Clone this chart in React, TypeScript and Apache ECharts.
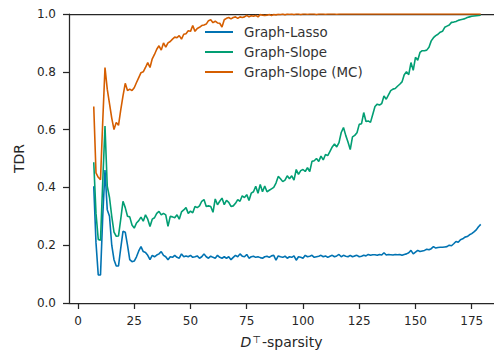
import React, { useEffect, useRef } from "react";
import * as echarts from "echarts";

const X_START = 7;
const X_END = 179;
const X_TICKS = [0, 25, 50, 75, 100, 125, 150, 175];
const Y_TICKS = [0, 0.2, 0.4, 0.6, 0.8, 1.0];
const SERIES_NAMES = ["Graph-Lasso", "Graph-Slope", "Graph-Slope (MC)"];
const COLORS = ["#0173B2", "#029E73", "#D55E00"];

const lasso = [
  0.404, 0.208, 0.097, 0.097, 0.30, 0.46, 0.323, 0.30, 0.20, 0.15,
  0.128, 0.128, 0.19, 0.248, 0.245, 0.20, 0.15, 0.143, 0.145, 0.16,
  0.18, 0.195, 0.178, 0.175, 0.165, 0.15, 0.165, 0.16, 0.166, 0.17,
  0.178, 0.165, 0.16, 0.15, 0.16, 0.158, 0.165, 0.158, 0.155, 0.17,
  0.16, 0.163, 0.16, 0.165, 0.158, 0.16, 0.163, 0.155, 0.16, 0.17,
  0.16, 0.155, 0.162, 0.158, 0.155, 0.165, 0.158, 0.155, 0.16, 0.155,
  0.16, 0.15, 0.158, 0.165, 0.16, 0.17, 0.162, 0.16, 0.168, 0.155,
  0.16, 0.162, 0.158, 0.16, 0.157, 0.155, 0.16, 0.162, 0.158, 0.163,
  0.165, 0.148, 0.163, 0.16, 0.158, 0.162, 0.155, 0.16, 0.158, 0.163,
  0.148, 0.16, 0.158, 0.155, 0.165, 0.16, 0.162, 0.165, 0.158, 0.16,
  0.162, 0.165, 0.16, 0.163, 0.158, 0.162, 0.165, 0.16, 0.163, 0.168,
  0.16, 0.165, 0.162, 0.16, 0.165, 0.16, 0.163, 0.165, 0.16, 0.162,
  0.165, 0.163, 0.168, 0.165, 0.167, 0.167, 0.165, 0.168, 0.166, 0.174,
  0.166, 0.168, 0.167, 0.166, 0.168, 0.167, 0.168, 0.165, 0.168, 0.17,
  0.174, 0.182, 0.17, 0.176, 0.182, 0.178, 0.18, 0.182, 0.186, 0.184,
  0.188, 0.195, 0.19, 0.192, 0.193, 0.193, 0.194, 0.195, 0.20, 0.198,
  0.205, 0.213, 0.21, 0.219, 0.222, 0.228, 0.23, 0.236, 0.24, 0.246,
  0.253, 0.264, 0.272,
];

const slope = [
  0.487, 0.31, 0.22, 0.217, 0.42, 0.612, 0.404, 0.365, 0.30, 0.245,
  0.231, 0.232, 0.29, 0.352, 0.33, 0.30, 0.298, 0.27, 0.259, 0.277,
  0.285, 0.297, 0.283, 0.305, 0.29, 0.265, 0.29, 0.295, 0.31, 0.317,
  0.305, 0.31, 0.305, 0.265, 0.30, 0.298, 0.295, 0.305, 0.29, 0.315,
  0.322, 0.33, 0.31, 0.318, 0.312, 0.334, 0.33, 0.336, 0.352, 0.358,
  0.334, 0.336, 0.334, 0.314, 0.36, 0.34, 0.352, 0.363, 0.34, 0.355,
  0.348, 0.334, 0.336, 0.345, 0.358, 0.352, 0.371, 0.365, 0.375, 0.355,
  0.38, 0.385, 0.404, 0.38, 0.41, 0.385, 0.405, 0.385, 0.39, 0.395,
  0.40, 0.415, 0.438, 0.43, 0.42, 0.425, 0.44, 0.43, 0.44, 0.425,
  0.462, 0.445, 0.458, 0.462, 0.455, 0.468, 0.455, 0.49, 0.492, 0.50,
  0.49, 0.508, 0.495, 0.514, 0.51, 0.525, 0.54, 0.55, 0.54, 0.555,
  0.59, 0.607, 0.58, 0.557, 0.531, 0.575, 0.58, 0.589, 0.618, 0.62,
  0.659, 0.628, 0.63, 0.625, 0.652, 0.68, 0.688, 0.685, 0.69, 0.716,
  0.705, 0.72, 0.735, 0.74, 0.742, 0.75, 0.757, 0.765, 0.79, 0.80,
  0.79, 0.832, 0.805, 0.85, 0.84, 0.867, 0.873, 0.873, 0.875, 0.885,
  0.907, 0.918, 0.925, 0.93, 0.937, 0.94, 0.954, 0.958, 0.962, 0.971,
  0.972, 0.974, 0.978, 0.98, 0.982, 0.984, 0.988, 0.99, 0.992, 0.993,
  0.994, 0.995, 0.996,
];

const slopeMC = [
  0.68, 0.45, 0.435, 0.427, 0.63, 0.815, 0.74, 0.69, 0.64, 0.60,
  0.625, 0.615, 0.668, 0.717, 0.76, 0.735, 0.74, 0.735, 0.745, 0.763,
  0.78, 0.797, 0.80, 0.815, 0.832, 0.815, 0.845, 0.86, 0.878, 0.89,
  0.875, 0.90, 0.885, 0.90, 0.905, 0.913, 0.92, 0.918, 0.925, 0.913,
  0.93, 0.932, 0.942, 0.94, 0.96, 0.94, 0.95, 0.954, 0.96, 0.962,
  0.965, 0.977, 0.98, 0.97, 0.975, 0.969, 0.968, 0.955, 0.98, 0.985,
  0.988, 0.983, 0.988, 0.99, 0.985, 0.99, 0.988, 0.99, 0.995, 0.99,
  0.994, 0.992, 0.995, 0.99, 0.998, 0.996, 0.995, 0.996, 0.998, 0.995,
  0.998, 0.997, 0.999, 0.998, 1.0, 0.997, 1.0, 0.999, 1.0, 0.998,
  1.0, 1.0, 0.998, 1.0, 1.0, 0.999, 1.0, 1.0, 1.0, 0.998,
  1.0, 1.0, 1.0, 0.999, 1.0, 1.0, 1.0, 1.0, 0.999, 1.0,
  1.0, 1.0, 1.0, 1.0, 1.0, 1.0, 1.0, 1.0, 1.0, 1.0,
  1.0, 1.0, 1.0, 1.0, 1.0, 1.0, 1.0, 1.0, 1.0, 1.0,
  1.0, 1.0, 1.0, 1.0, 1.0, 1.0, 1.0, 1.0, 1.0, 1.0,
  1.0, 1.0, 1.0, 1.0, 1.0, 1.0, 1.0, 1.0, 1.0, 1.0,
  1.0, 1.0, 1.0, 1.0, 1.0, 1.0, 1.0, 1.0, 1.0, 1.0,
  1.0, 1.0, 1.0, 1.0, 1.0, 1.0, 1.0, 1.0, 1.0, 1.0,
  1.0, 1.0, 1.0,
];

const xs: number[] = [];
for (let x = X_START; x <= X_END; x++) xs.push(x);

const SPINE = "#262626";
const FONT = "DejaVu Sans";
const X_MIN = -4;
const X_MAX = 184.9;

export default function App() {
  const ref = useRef<HTMLDivElement>(null);
  useEffect(() => {
    if (!ref.current) return;
    const chart = echarts.init(ref.current, undefined, { renderer: "svg" });
    const allSeries = [lasso, slope, slopeMC];
    chart.setOption({
      animation: false,
      backgroundColor: "#ffffff",
      grid: { left: 69, top: 14, right: 0, bottom: 52 },
      legend: {
        orient: "vertical",
        left: 205,
        top: 25,
        padding: 0,
        icon: "rect",
        itemWidth: 28,
        itemHeight: 2,
        itemGap: 6,
        data: SERIES_NAMES,
        textStyle: {
          fontFamily: FONT,
          fontSize: 13.4,
          lineHeight: 14,
          color: "#333333",
          padding: [0, 0, 0, 6],
        },
      },
      xAxis: [
        {
          type: "value",
          min: X_MIN,
          max: X_MAX,
          name: "{i|D}{s|⊤}-sparsity",
          nameLocation: "middle",
          nameGap: 31,
          nameTextStyle: {
            fontFamily: FONT,
            fontSize: 14,
            color: SPINE,
            rich: {
              i: { fontFamily: FONT, fontSize: 14, fontStyle: "italic", color: SPINE },
              s: { fontFamily: FONT, fontSize: 10, color: SPINE, verticalAlign: "top", padding: [0, 1, 6, 1] },
            },
          },
          axisLine: { show: true, onZero: false, lineStyle: { color: SPINE, width: 1.25 } },
          axisTick: {
            show: true,
            length: 6,
            customValues: X_TICKS,
            lineStyle: { color: SPINE, width: 1.25 },
          },
          axisLabel: {
            customValues: X_TICKS,
            margin: 12,
            fontFamily: FONT,
            fontSize: 12,
            color: SPINE,
          },
          splitLine: { show: false },
        },
        {
          type: "value",
          min: X_MIN,
          max: X_MAX,
          position: "top",
          axisLine: { show: true, onZero: false, lineStyle: { color: SPINE, width: 1.25 } },
          axisTick: { show: false },
          axisLabel: { show: false },
          splitLine: { show: false },
        },
      ],
      yAxis: {
        type: "value",
        min: 0,
        max: 1,
        interval: 0.2,
        name: "TDR",
        nameLocation: "middle",
        nameGap: 38,
        nameTextStyle: { fontFamily: FONT, fontSize: 14, color: SPINE },
        axisLine: { show: true, onZero: false, lineStyle: { color: SPINE, width: 1.25 } },
        axisTick: { show: true, length: 6, lineStyle: { color: SPINE, width: 1.25 } },
        axisLabel: {
          margin: 13,
          fontFamily: FONT,
          fontSize: 12,
          color: SPINE,
          formatter: (v: number) => (Y_TICKS.includes(Math.round(v * 10) / 10) ? v.toFixed(1) : ""),
        },
        splitLine: { show: false },
      },
      series: allSeries.map((vals, i) => ({
        name: SERIES_NAMES[i],
        type: "line",
        xAxisIndex: 0,
        data: xs.map((x, j) => [x, vals[j]]),
        symbol: "none",
        showSymbol: false,
        lineStyle: { color: COLORS[i], width: 1.6 },
        itemStyle: { color: COLORS[i] },
        z: 2 + i,
      })),
    });
    return () => chart.dispose();
  }, []);
  return (
    <div
      ref={ref}
      style={{ position: "fixed", left: 0, top: 0, width: 494, height: 355 }}
    />
  );
}
